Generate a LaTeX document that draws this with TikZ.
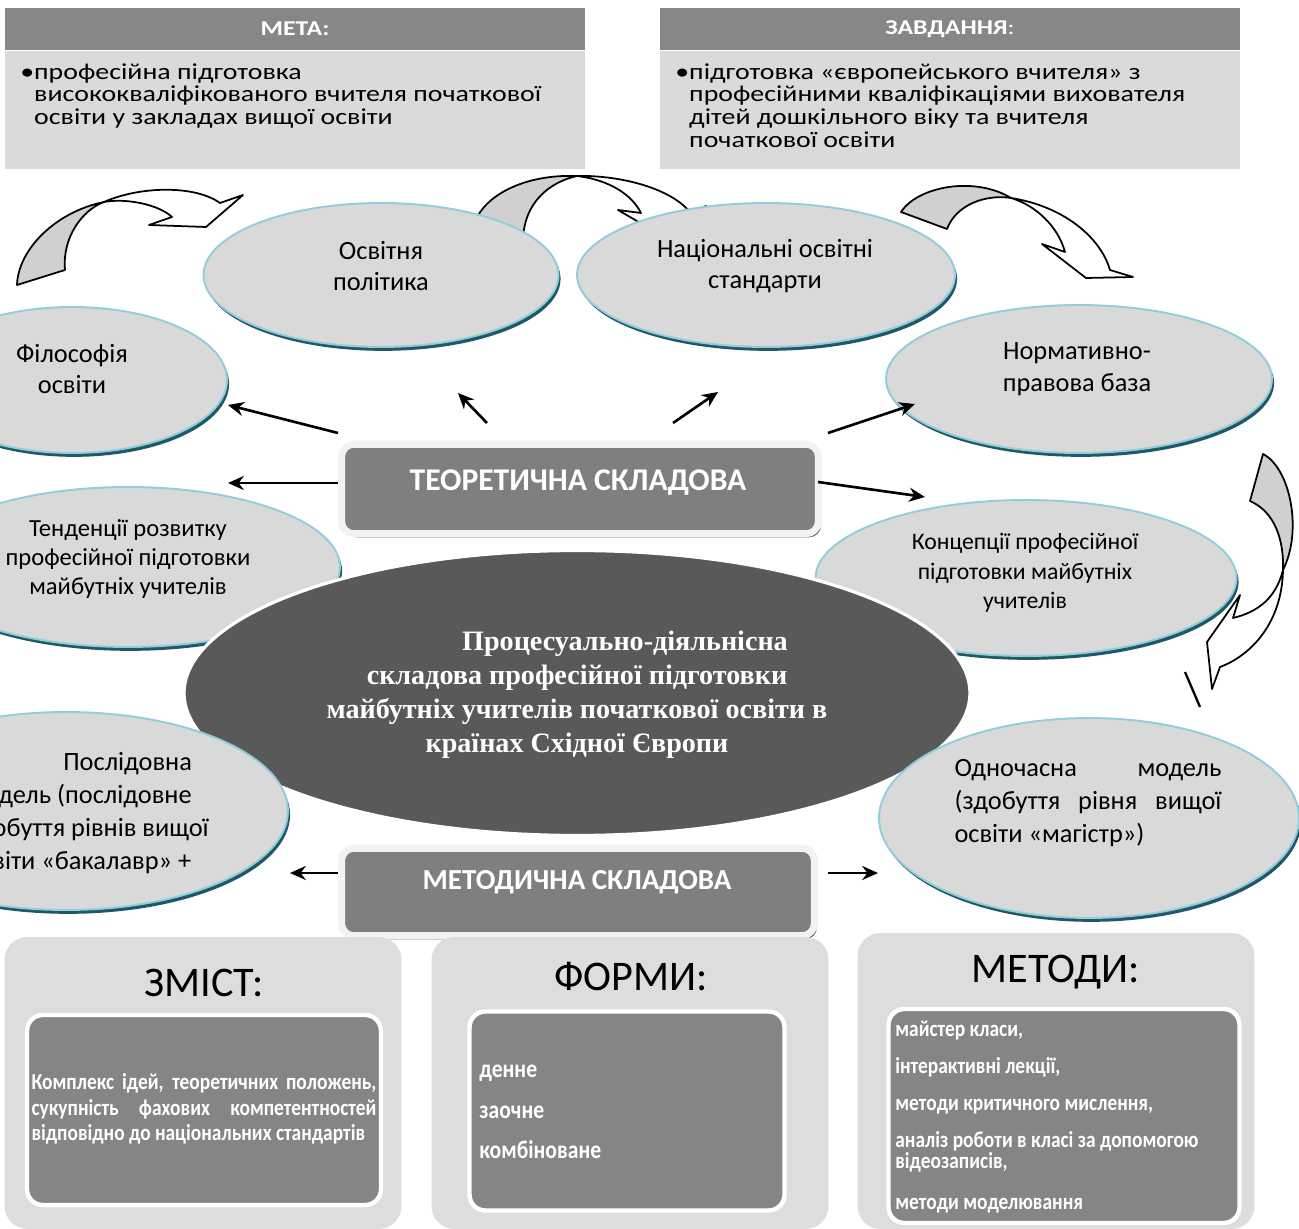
\documentclass[tikz,border=0pt]{standalone}
\usepackage{fontspec}
\setmainfont{Carlito}
\newfontfamily\hubfont{Liberation Serif}
\newfontfamily\widefont[FakeStretch=1.22]{Carlito}
\newfontfamily\tallfont[FakeStretch=0.85]{Carlito}
\usetikzlibrary{shapes.geometric}
\usetikzlibrary{shadows}
\usetikzlibrary{arrows.meta}
\usetikzlibrary{positioning}

\definecolor{ellfill}{HTML}{D9D9D9}
\definecolor{ellline}{HTML}{92CDDC}
\definecolor{ellshadow}{HTML}{215868}
\definecolor{hubgray}{HTML}{595959}
\definecolor{headgray}{HTML}{878787}
\definecolor{bodygray}{HTML}{DADADA}
\definecolor{partdark}{HTML}{7F7F7F}
\definecolor{partlight}{HTML}{F2F2F2}
\definecolor{partshadow}{HTML}{1F3864}
\definecolor{panelgray}{HTML}{DDDDDD}
\definecolor{cardgray}{HTML}{858585}
\definecolor{ribbongray}{HTML}{D0D0D0}

\newcommand{\spreadrow}[2]{\makebox[#1][s]{#2}}

\begin{document}
\begin{tikzpicture}
[x=0.02cm,y=-0.02cm,>={Stealth[length=9pt,width=8pt]},line join=round,
  theme/.style={ellipse,fill=ellfill,draw=ellline,line width=1.1pt,inner sep=0pt,
    drop shadow={fill=ellshadow,opacity=1,shadow xshift=1.2pt,shadow yshift=-2.2pt}},
  themetext/.style={align=center,inner sep=0pt,font=\fontsize{15}{18}\selectfont},
  hub/.style={ellipse,fill=hubgray,draw=white,line width=1.8pt,inner sep=0pt,
    minimum width=15.72cm,minimum height=5.7cm},
  hubtext/.style={align=center,text=white,font=\hubfont\bfseries\fontsize{16}{19.3}\selectfont},
  ribbonback/.style={fill=ribbongray,draw=black,line width=1pt},
  ribbonfront/.style={fill=white,draw=black,line width=1pt},
  headbar/.style={rectangle,inner sep=0pt,minimum width=11.6cm,minimum height=0.84cm,
    fill=headgray,text=white,font=\widefont\bfseries\fontsize{12}{14}\selectfont},
  bodybar/.style={rectangle,inner sep=0pt,minimum width=11.6cm,minimum height=2.36cm,fill=bodygray},
  bartext/.style={anchor=north west,align=left,inner sep=0pt,font=\widefont\fontsize{13}{13}\selectfont},
  part/.style={rectangle,rounded corners=7pt,fill=partdark,draw=partlight,line width=4pt,
    drop shadow={fill=partshadow,opacity=1,shadow xshift=1.5pt,shadow yshift=-2pt}},
  parttext/.style={text=white,inner sep=0pt},
  conn/.style={->,line width=1.5pt},
  panel/.style={rectangle,rounded corners=13pt,fill=panelgray,minimum width=7.94cm},
  paneltitle/.style={inner sep=0pt,font=\fontsize{24}{26}\selectfont},
  card/.style={rectangle,rounded corners=9pt,fill=cardgray,draw=white,line width=2.5pt},
  cardtext/.style={inner sep=0pt,text=white,font=\tallfont\bfseries\fontsize{13}{12}\selectfont}]
\useasboundingbox (0,0) rectangle (1299,1229);
\clip (0,0) rectangle (1299,1229);

%% ribbon arrows round the themes
\filldraw[ribbonback] (17,285) .. controls (18,250) and (55,212) .. (104,202) .. controls (82,210) and (62,238) .. (65,270) -- cycle;
\filldraw[ribbonfront] (104,202) .. controls (140,186) and (195,185) .. (220,203) -- (243,195) -- (206,227) -- (149,225) -- (172,217) .. controls (158,204) and (125,198) .. (104,202) -- cycle;
\filldraw[ribbonback] (475,222) .. controls (485,195) and (525,174) .. (577,176) .. controls (550,182) and (524,202) .. (523,240) -- cycle;
\filldraw[ribbonfront] (577,176) .. controls (615,175) and (668,186) .. (690,212) -- (706,206) -- (690,252) -- (618,210) -- (641,213) .. controls (632,195) and (610,180) .. (577,176) -- cycle;
\filldraw[ribbonback] (901,212) .. controls (918,186) and (975,176) .. (1011,198) .. controls (985,194) and (956,205) .. (947,229) -- cycle;
\filldraw[ribbonfront] (1011,198) .. controls (1035,205) and (1058,226) .. (1065,252) -- (1042,244) -- (1086,278) -- (1133,277) -- (1110,270) .. controls (1100,236) and (1062,206) .. (1011,198) -- cycle;
\filldraw[ribbonback] (1250,501) -- (1263,454) .. controls (1290,468) and (1303,530) .. (1283,570) .. controls (1284,540) and (1275,512) .. (1250,501) -- cycle;
\filldraw[ribbonfront] (1283,570) .. controls (1276,598) and (1258,612) .. (1233,618) -- (1240,595) -- (1207,642) -- (1212,689) -- (1220,667) .. controls (1252,655) and (1282,622) .. (1283,570) -- cycle;
\draw[line width=1.3pt] (1185,672) -- (1200,707);

%% goal and task
\node[headbar] (metahead) at (295,29) {МЕТА:};
\node[bodybar,below=0pt of metahead] (metabody) {};
\node[bartext] (metatext) at (20,63) {•професійна підготовка\\\hphantom{•}висококваліфікованого вчителя початкової\\\hphantom{•}освіти у закладах вищої освіти};
\node[headbar] (taskhead) at (950,29) {ЗАВДАННЯ\mdseries:};
\node[bodybar,below=0pt of taskhead] (taskbody) {};
\node[bartext] (tasktext) at (675,63) {•підготовка «європейського вчителя» з\\\hphantom{•}професійними кваліфікаціями вихователя\\\hphantom{•}дітей дошкільного віку та вчителя\\\hphantom{•}початкової освіти};

%% themes
\node[theme,minimum width=7.1cm,minimum height=2.88cm] (polit) at (381,275) {};
\node[themetext] (polittext) at (381,266) {Освітня\\політика};
\node[theme,minimum width=7.56cm,minimum height=2.88cm] (stand) at (766,275) {};
\node[themetext] (standtext) at (765,266) {Національні освітні\\стандарти};
\node[theme,minimum width=6.2cm,minimum height=2.92cm] (philo) at (72,380) {};
\node[themetext] (philotext) at (72,369) {Філософія\\освіти};
\node[theme,minimum width=7.72cm,minimum height=2.96cm] (legal) at (1079,379) {};
\node[themetext] (legaltext) at (1077,369) {Нормативно-\\правова база};
\node[theme,minimum width=8.48cm,minimum height=3.2cm] (trend) at (128,567) {};
\node[themetext,font=\fontsize{14}{16.7}\selectfont] (trendtext) at (128,559) {Тенденції розвитку\\професійної підготовки\\майбутніх учителів};
\node[theme,minimum width=8.42cm,minimum height=3.12cm] (concept) at (1026,578) {};
\node[themetext,font=\fontsize{13.5}{16.7}\selectfont] (concepttext) at (1025,573) {Концепції професійної\\підготовки майбутніх\\учителів};

%% central part
\node[hub] (hub) at (577,693) {};
\node[hubtext] (hubtitle) at (577,695) {\hspace*{1.92cm}Процесуально-діяльнісна\\складова професійної підготовки\\майбутніх учителів початкової освіти в\\країнах Східної Європи};
\node[theme,minimum width=8.88cm,minimum height=3.96cm] (seq) at (66,811) {};
\node[themetext,anchor=north west,align=left,font=\fontsize{15}{18.7}\selectfont] (seqtext) at (-33,752) {\hspace*{1.92cm}Послідовна\\модель (послідовне\\здобуття рівнів вищої\\освіти «бакалавр» +};
\node[theme,minimum width=8.4cm,minimum height=4cm] (simul) at (1089,818) {};
\node[themetext,align=left,font=\fontsize{15}{18.7}\selectfont] (simultext) at (1088,803) {\spreadrow{5.34cm}{Одночасна модель}\\\spreadrow{5.34cm}{(здобуття рівня вищої}\\освіти «магістр»)};

%% two parts
\node[part,minimum width=9.54cm,minimum height=1.79cm] (theory) at (580,489) {};
\node[parttext,font=\bfseries\fontsize{18}{20}\selectfont] (theorytext) at (578,483) {ТЕОРЕТИЧНА СКЛАДОВА};
\node[part,minimum width=9.46cm,minimum height=1.75cm] (method) at (578,892) {};
\node[parttext,font=\bfseries\fontsize{16.5}{18}\selectfont] (methodtext) at (577,882) {МЕТОДИЧНА СКЛАДОВА};

%% connectors
\coordinate (t1) at (338,433); \coordinate (p1) at (228,405);
\coordinate (t2) at (487,423); \coordinate (p2) at (458,393);
\coordinate (t3) at (673,423); \coordinate (p3) at (718,392);
\coordinate (t4) at (828,433); \coordinate (p4) at (915,404);
\coordinate (t5) at (338,483); \coordinate (p5) at (228,483);
\coordinate (t6) at (818,482); \coordinate (p6) at (925,497);
\coordinate (m1) at (338,873); \coordinate (q1) at (290,873);
\coordinate (m2) at (828,873); \coordinate (q2) at (878,873);
\path[conn]
(t1) edge (p1)
(t2) edge (p2)
(t3) edge (p3)
(t4) edge (p4)
(t5) edge (p5)
(t6) edge (p6)
(m1) edge (q1)
(m2) edge (q2);

%% content, forms, methods
\node[panel,minimum height=5.84cm] (zmist) at (203,1083) {};
\node[paneltitle] (zmisttitle) at (204,983) {ЗМІСТ:};
\node[card,minimum width=7.08cm,minimum height=3.8cm] (zmistcard) at (204,1110) {};
\node[cardtext,align=left,font=\tallfont\bfseries\fontsize{13}{14.5}\selectfont] (zmisttext) at (204,1109) {\spreadrow{6.9cm}{Комплекс ідей, теоретичних положень,}\\\spreadrow{6.9cm}{сукупність фахових компетентностей}\\відповідно до національних стандартів};
\node[panel,minimum height=5.84cm] (forms) at (630,1083) {};
\node[paneltitle] (formstitle) at (631,977) {ФОРМИ:};
\node[card,minimum width=6.3cm,minimum height=3.98cm] (formscard) at (627,1111) {};
\node[cardtext,anchor=west,align=left,font=\tallfont\bfseries\fontsize{14.5}{23}\selectfont] (formstext) at (479,1112) {денне\\заочне\\комбіноване};
\node[panel,minimum height=5.92cm] (ways) at (1056,1081) {};
\node[paneltitle] (waystitle) at (1056,972) {МЕТОДИ:};
\node[card,minimum width=7.02cm,minimum height=4.28cm] (wayscard) at (1064,1116) {};
\node[cardtext,anchor=north west,align=left] (waystext) at (895,1021) {майстер класи,\\[9pt]інтерактивні лекції,\\[9pt]методи критичного мислення,\\[9pt]аналіз роботи в класі за допомогою\\відеозаписів,\\[11pt]методи моделювання};
\end{tikzpicture}
\end{document}
